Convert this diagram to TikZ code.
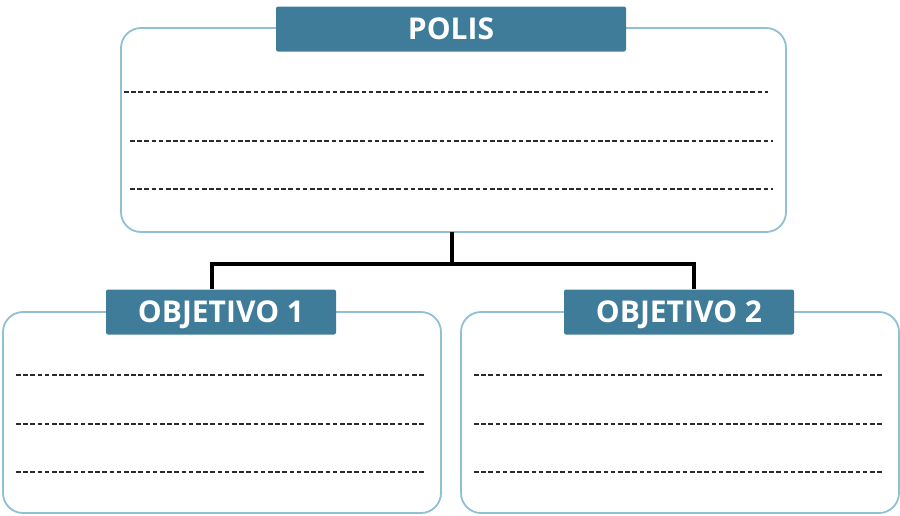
\documentclass[tikz,border=0pt]{standalone}
\usepackage{fontspec}
\setmainfont{Open Sans}
\definecolor{tabblue}{HTML}{3F7C99}
\definecolor{boxline}{HTML}{8FC0D6}
\definecolor{dashgray}{HTML}{2A2A2A}
\begin{document}
\begin{tikzpicture}[x=1pt,y=-1pt,
  panel/.style={draw=boxline,line width=1.8pt,rounded corners=20pt,fill=white},
  tab/.style={fill=tabblue,rounded corners=2pt,text=white,font=\bfseries\fontsize{30}{34}\selectfont,inner sep=0pt,text height=21pt,text depth=0pt},
  writeline/.style={draw=dashgray,line width=1.8pt,dash pattern=on 4.6pt off 2.6pt},
  link/.style={draw=black,line width=3.6pt}]
\useasboundingbox (0,0) rectangle (900,515);
% panels
\draw[panel] (121,28) rectangle (786,232);
\draw[panel] (3,312) rectangle (441,513);
\draw[panel] (461,312) rectangle (899,513);
% connectors
\coordinate (top) at (452,232);
\coordinate (mid) at (452,264);
\coordinate (l) at (212,264);
\coordinate (r) at (694,264);
% tabs
\node[tab,minimum width=350pt,minimum height=45pt] (polis) at (451,29) {POLIS};
\node[tab,minimum width=230pt,minimum height=45pt] (obj1) at (221,312) {OBJETIVO 1};
\node[tab,minimum width=230pt,minimum height=45pt] (obj2) at (679,312) {OBJETIVO 2};
\draw[link] (top) -- (mid);
\draw[link,line cap=rect] (l) -- (r);
\draw[link] (l) -- (obj1.north -| l);
\draw[link] (r) -- (obj2.north -| r);
% writing lines
\draw[writeline] (124,92) -- (768,92);
\draw[writeline] (130,141) -- (773,141);
\draw[writeline] (130,189) -- (773,189);
\foreach \yy in {375,424,472}{
  \draw[writeline] (16,\yy) -- (425,\yy);
  \draw[writeline] (474,\yy) -- (883,\yy);
}
\end{tikzpicture}
\end{document}
